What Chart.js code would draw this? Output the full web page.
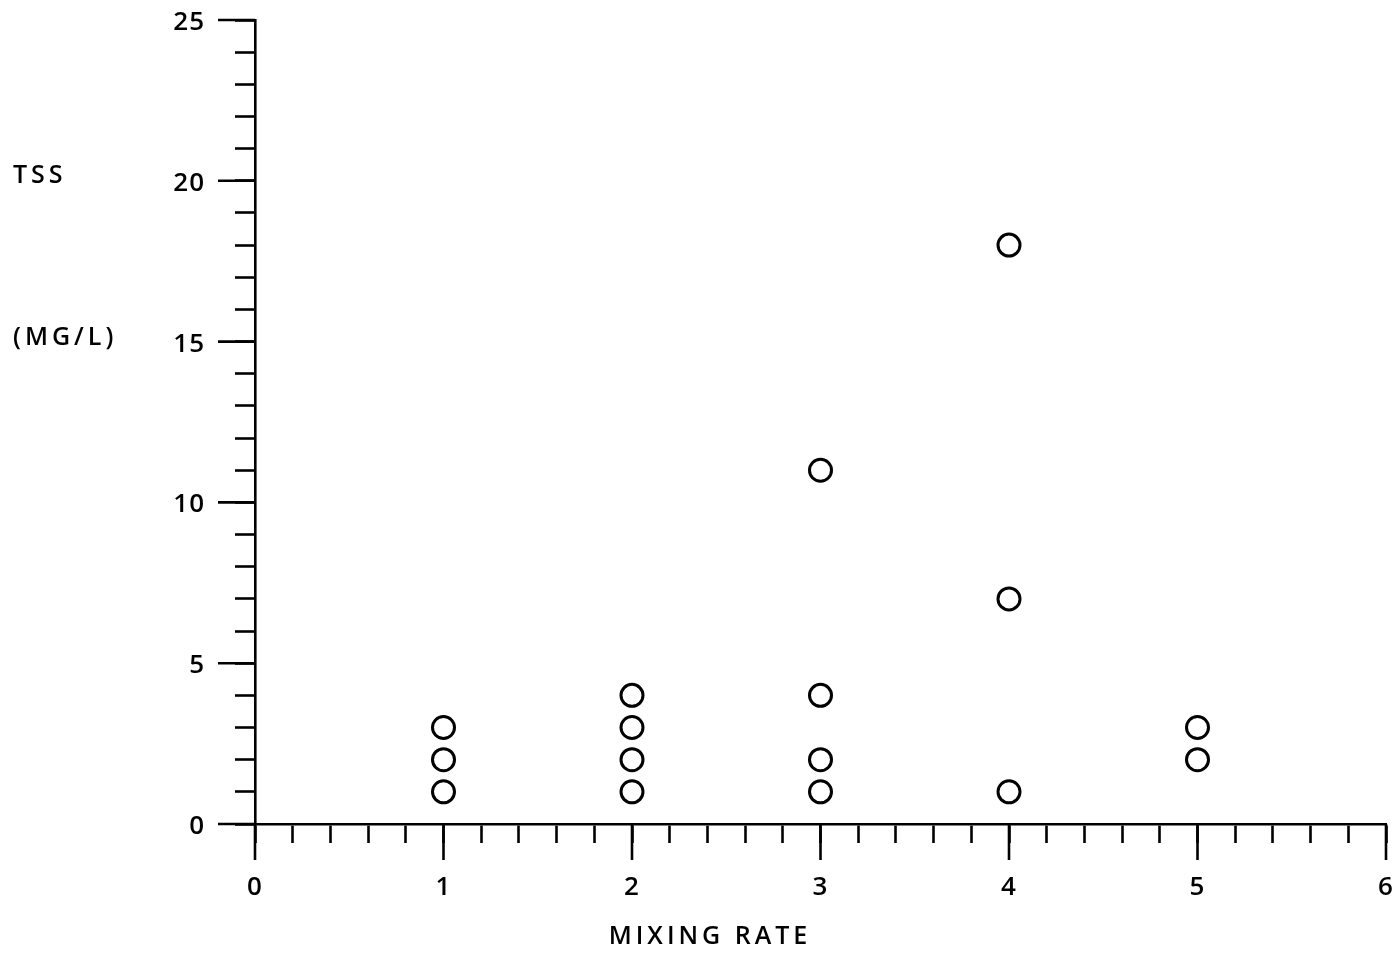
<!DOCTYPE html>
<html><head><meta charset="utf-8">
<script src="https://cdn.jsdelivr.net/npm/chart.js@4/dist/chart.umd.min.js"></script>
<style>html,body{margin:0;padding:0;background:#fff;overflow:hidden}#wrap{width:1400px;height:955px;position:relative}canvas{display:block}</style>
</head><body><div id="wrap"><canvas id="c"></canvas></div>
<script>
const mixingRate = [1, 1, 1, 2, 2, 2, 2, 3, 3, 3, 3, 4, 4, 4, 5, 5];
const tss        = [1, 2, 3, 1, 2, 3, 4, 1, 2, 4, 11, 1, 7, 18, 2, 3];
const xTickLabels = ['0', '1', '2', '3', '4', '5', '6'];
const yTickLabels = ['0', '5', '10', '15', '20', '25'];
const xTitle = 'MIXING RATE';
const yTitleTop = 'TSS';
const yTitleBottom = '(MG/L)';

const FONT = 'Open Sans';
const WEIGHT = '600';
const ink = '#000';

const axisDecor = {
  id: 'axisDecor',
  afterDraw(chart) {
    const ctx = chart.ctx, xs = chart.scales.x, ys = chart.scales.y;
    const a = chart.chartArea;
    ctx.save();
    ctx.strokeStyle = ink; ctx.lineWidth = 2.6; ctx.lineCap = 'butt';
    // longer major ticks
    for (let i = 0; i < xTickLabels.length; i++) {
      const px = xs.getPixelForValue(Number(xTickLabels[i]));
      ctx.beginPath(); ctx.moveTo(px, a.bottom); ctx.lineTo(px, a.bottom + 36); ctx.stroke();
    }
    for (let i = 0; i < yTickLabels.length; i++) {
      const py = ys.getPixelForValue(Number(yTickLabels[i]));
      ctx.beginPath(); ctx.moveTo(a.left, py); ctx.lineTo(a.left - 37, py); ctx.stroke();
    }
    // tick labels
    ctx.fillStyle = ink;
    ctx.font = WEIGHT + ' 26px "' + FONT + '"';
    ctx.letterSpacing = '1px';
    ctx.textBaseline = 'alphabetic';
    ctx.textAlign = 'center';
    for (let i = 0; i < xTickLabels.length; i++) {
      const px = xs.getPixelForValue(Number(xTickLabels[i]));
      ctx.fillText(xTickLabels[i], px, a.bottom + 71);
    }
    ctx.textAlign = 'right';
    for (let i = 0; i < yTickLabels.length; i++) {
      const py = ys.getPixelForValue(Number(yTickLabels[i]));
      ctx.fillText(yTickLabels[i], a.left - 50, py + 10);
    }
    // titles
    ctx.font = WEIGHT + ' 25px "' + FONT + '"';
    ctx.letterSpacing = '4px';
    ctx.textAlign = 'left';
    ctx.fillText(yTitleTop, 13, 183);
    ctx.fillText(yTitleBottom, 13, 345);
    ctx.textAlign = 'center';
    ctx.fillText(xTitle, 710, 944);
    ctx.restore();
  }
};

new Chart(document.getElementById('c'), {
  type: 'scatter',
  data: {
    datasets: [{
      data: mixingRate.map((x, i) => ({ x: x, y: tss[i] })),
      pointStyle: 'circle',
      pointRadius: 11,
      pointHoverRadius: 11,
      borderWidth: 3,
      borderColor: ink,
      backgroundColor: 'rgba(0,0,0,0)',
      clip: false
    }]
  },
  options: {
    responsive: true,
    maintainAspectRatio: false,
    animation: false,
    layout: { padding: { top: 20, right: 6, left: 0, bottom: 0 } },
    plugins: { legend: { display: false }, tooltip: { enabled: false } },
    scales: {
      x: {
        type: 'linear', min: 0, max: 6,
        grid: { drawOnChartArea: false, drawTicks: true, tickLength: 19, tickColor: ink, tickWidth: 2.6 },
        border: { display: true, color: ink, width: 2.6 },
        ticks: { stepSize: 0.2, autoSkip: false, display: false },
        afterFit: s => { s.height = 131; s.paddingLeft = 0; s.paddingRight = 0; }
      },
      y: {
        type: 'linear', min: 0, max: 25,
        grid: { drawOnChartArea: false, drawTicks: true, tickLength: 20, tickColor: ink, tickWidth: 2.6 },
        border: { display: true, color: ink, width: 2.6 },
        ticks: { stepSize: 1, autoSkip: false, display: false },
        afterFit: s => { s.width = 255; s.paddingTop = 0; s.paddingBottom = 0; }
      }
    }
  },
  plugins: [axisDecor]
});
</script>
</body></html>
